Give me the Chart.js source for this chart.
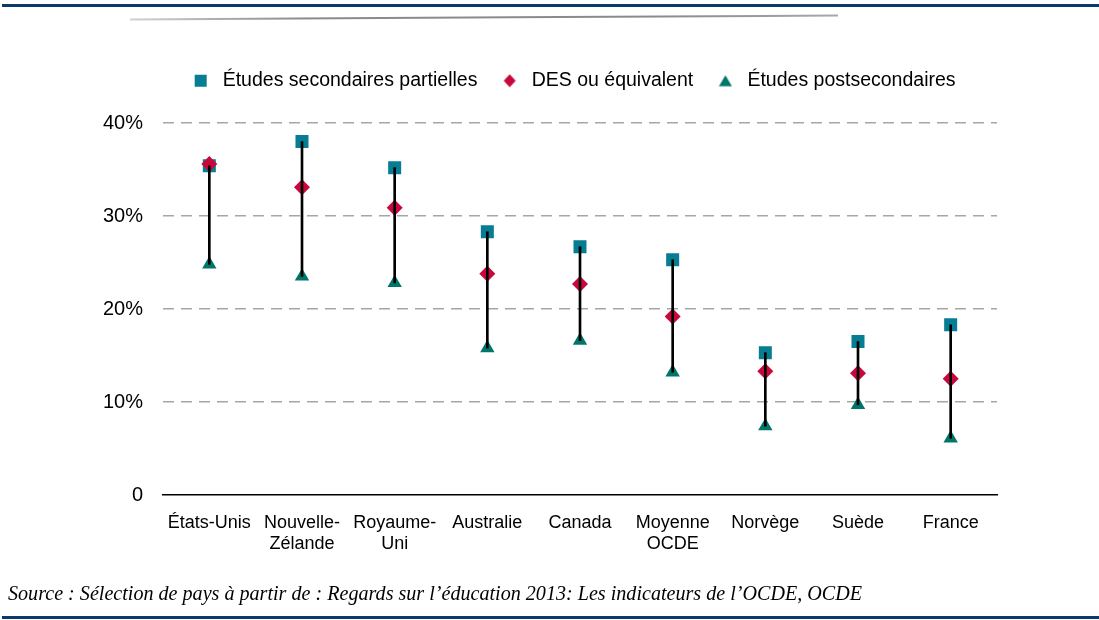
<!DOCTYPE html>
<html><head><meta charset="utf-8">
<script src="https://cdn.jsdelivr.net/npm/chart.js@4/dist/chart.umd.min.js"></script>
<style>
html,body{margin:0;padding:0;background:#fff;}
#wrap{position:relative;width:1099px;height:620px;overflow:hidden;}
#c{position:absolute;left:0;top:0;}
.navy{position:absolute;left:2px;width:1097px;height:3px;background:#0B3A6A;}
#src{position:absolute;left:8px;top:582px;font-family:"Liberation Serif",serif;font-style:italic;font-size:20px;color:#000;white-space:nowrap;transform-origin:0 0;}
</style></head>
<body><div id="wrap">
<div class="navy" style="top:4px"></div>
<svg width="1099" height="40" style="position:absolute;left:0;top:0">
<defs><linearGradient id="g" x1="0" x2="1" y1="0" y2="0">
<stop offset="0" stop-color="#d0d0d0"/><stop offset="0.25" stop-color="#8a8a8a"/><stop offset="0.75" stop-color="#8a8a8a"/><stop offset="1" stop-color="#a8a8a8"/></linearGradient></defs>
<line x1="130" y1="19.5" x2="838" y2="15.5" stroke="url(#g)" stroke-width="2"/>
</svg>
<canvas id="c" width="1099" height="620"></canvas>
<div id="src">Source : Sélection de pays à partir de : Regards sur l’éducation 2013: Les indicateurs de l’OCDE, OCDE</div>
<div class="navy" style="top:616px"></div>
</div>
<script>
const categories = [["États-Unis"],["Nouvelle-","Zélande"],["Royaume-","Uni"],["Australie"],["Canada"],["Moyenne","OCDE"],["Norvège"],["Suède"],["France"]];
const partielles = [35.4, 38.0, 35.2, 28.3, 26.7, 25.3, 15.3, 16.5, 18.3];
const desEquiv   = [35.6, 33.1, 30.9, 23.8, 22.7, 19.2, 13.3, 13.1, 12.5];
const postsec    = [24.8, 23.5, 22.8, 15.8, 16.6, 13.2,  7.4,  9.7,  6.1];
const seriesNames = ["Études secondaires partielles", "DES ou équivalent", "Études postsecondaires"];
const yTicks = [0, 10, 20, 30, 40];

const C_SQ = '#067D92', C_DI = '#C8083C', C_TR = '#00766A';

function legendMarker(kind, color){
  const c = document.createElement('canvas'); c.width = 14; c.height = 14;
  const g = c.getContext('2d'); g.fillStyle = color; g.beginPath();
  if (kind === 'rect') g.rect(1, 1, 12, 12);
  else if (kind === 'diamond'){ g.moveTo(7,0.5); g.lineTo(13,7); g.lineTo(7,13.5); g.lineTo(1,7); g.closePath(); }
  else { g.moveTo(7,1.5); g.lineTo(13.5,12.5); g.lineTo(0.5,12.5); g.closePath(); }
  g.fill(); return c;
}
const legendImgs = [legendMarker('rect', C_SQ), legendMarker('diamond', C_DI), legendMarker('tri', C_TR)];

const LEGEND_GAP = 22.5;
const LEGEND_LEFT = 147;
const legendAdjust = {
  id: 'legendAdjust',
  beforeLayout(chart){
    const lg = chart.legend;
    if (lg && !lg._gapPatched){
      const f = lg.fit;
      lg.fit = function(){ f.call(this); this.height += LEGEND_GAP; };
      lg._gapPatched = true;
    }
  },
  afterLayout(chart){
    const lg = chart.legend;
    if (lg){ lg.left = LEGEND_LEFT; lg.width = lg.right - lg.left; }
  }
};

const xFont = {family: '"Liberation Sans", Arial, sans-serif', size: 18};
const yFont = {family: '"Liberation Sans", Arial, sans-serif', size: 20};

new Chart(document.getElementById('c'), {
  type: 'bar',
  data: {
    labels: categories,
    datasets: [
      {type:'bar', label:'range', data: postsec.map((v,i)=>[v, partielles[i]]), backgroundColor:'#000', barThickness:2, order:0},
      {type:'line', label: seriesNames[1], data: desEquiv, showLine:false, pointStyle:'rectRot', pointRadius:8, pointBackgroundColor:C_DI, pointBorderWidth:0, order:1},
      {type:'line', label: seriesNames[2], data: postsec, showLine:false, pointStyle:'triangle', pointRadius:8.3, pointBackgroundColor:C_TR, pointBorderWidth:0, order:2},
      {type:'line', label: seriesNames[0], data: partielles, showLine:false, pointStyle:'rect', pointRadius:9.2, pointBackgroundColor:C_SQ, pointBorderWidth:0, order:3}
    ]
  },
  options: {
    responsive:false, animation:false,
    layout:{padding:{left:103, right:102, top:51, bottom:65}},
    plugins:{
      tooltip:{enabled:false},
      legend:{
        position:'top', align:'center',
        labels:{
          usePointStyle:true, pointStyleWidth:24.5, padding:20, color:'#000',
          font:{family:'"Liberation Sans", Arial, sans-serif', size:19.5},
          generateLabels(){
            return seriesNames.map((t,i)=>({text:t, pointStyle:legendImgs[i], fillStyle:'#000', strokeStyle:'#000', lineWidth:0, hidden:false, fontColor:'#000', datasetIndex:i}));
          }
        }
      }
    },
    scales:{
      x:{
        grid:{display:false, drawTicks:false},
        border:{display:true, color:'#000', width:1.5},
        ticks:{color:'#000', font:xFont, padding:17, maxRotation:0, autoSkip:false},
        afterFit(s){ s.height = 60; }
      },
      y:{
        min:0, max:40,
        afterBuildTicks(s){ s.ticks = yTicks.map(v=>({value:v})); },
        grid:{color:(ctx)=> ctx.tick && ctx.tick.value === 0 ? 'rgba(0,0,0,0)' : '#A6A6A6', lineWidth:1.5, drawTicks:false},
        border:{display:false, dash:[11,7]},
        ticks:{color:'#000', font:yFont, padding:20, callback:(v)=> v === 0 ? '0' : v + '%'},
        afterFit(s){ s.width = 60; }
      }
    }
  },
  plugins:[legendAdjust]
});

const src = document.getElementById('src');
const w = src.getBoundingClientRect().width;
src.style.transform = 'scaleX(' + (854 / w) + ')';
</script>
</body></html>
